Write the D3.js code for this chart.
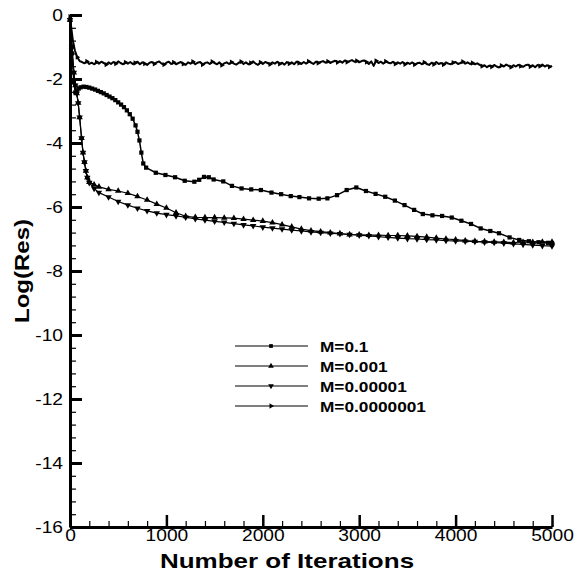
<!DOCTYPE html>
<html lang="en">
<head>
<meta charset="UTF-8" />
<title>Log(Res) vs Number of Iterations</title>
<script src="https://cdn.jsdelivr.net/npm/d3@7"></script>
<style>
  body { margin: 0; background: #fff; }
  text { font-family: "Liberation Sans", Arial, sans-serif; fill: #000; }
</style>
</head>
<body>
<div id="chart"></div>
<script>
// ---- values ----
var xTicks = [0, 1000, 2000, 3000, 4000, 5000];
var yTicks = [0, -2, -4, -6, -8, -10, -12, -14, -16];
var legendLabels = ["M=0.1", "M=0.001", "M=0.00001", "M=0.0000001"];

// M=0.1 (squares)
var m01 = [[0,-0.15],[20,-1.2],[40,-2.1],[55,-2.42],[70,-2.38],[90,-2.3],[110,-2.26],[140,-2.24],
  [170,-2.25],[200,-2.27],[230,-2.3],[260,-2.33],[290,-2.37],[320,-2.41],[350,-2.45],[380,-2.5],
  [410,-2.55],[440,-2.6],[470,-2.66],[500,-2.73],[530,-2.8],[560,-2.88],[590,-2.98],[620,-3.1],
  [650,-3.24],[680,-3.45],[700,-3.65],[720,-3.92],[740,-4.3],[760,-4.64],[790,-4.77],[890,-4.93],
  [990,-5.0],[1090,-5.07],[1190,-5.18],[1290,-5.21],[1340,-5.15],[1390,-5.06],[1440,-5.07],[1490,-5.14],
  [1590,-5.2],[1680,-5.34],[1780,-5.42],[1880,-5.45],[1980,-5.47],[2090,-5.55],[2190,-5.6],[2290,-5.66],
  [2380,-5.69],[2480,-5.73],[2580,-5.74],[2670,-5.73],[2770,-5.63],[2870,-5.47],[2970,-5.39],[3070,-5.5],
  [3170,-5.59],[3270,-5.68],[3370,-5.8],[3470,-5.94],[3570,-6.09],[3660,-6.22],[3760,-6.26],[3860,-6.28],
  [3960,-6.33],[4060,-6.43],[4160,-6.53],[4260,-6.67],[4360,-6.75],[4450,-6.82],[4560,-6.95],[4660,-7.03],
  [4760,-7.07],[4860,-7.1],[4960,-7.12],[5000,-7.13]];

// M=0.001 (up triangles)
var m0001 = [[0,-0.15],[20,-1.0],[40,-1.8],[55,-2.2],[70,-2.45],[85,-2.75],[100,-3.2],[120,-3.85],
  [135,-4.3],[150,-4.6],[165,-4.87],[180,-5.08],[200,-5.22],[250,-5.3],[300,-5.37],[400,-5.45],
  [500,-5.5],[600,-5.57],[700,-5.67],[800,-5.78],[900,-5.91],[1000,-6.03],[1100,-6.18],[1200,-6.29],
  [1300,-6.32],[1400,-6.33],[1500,-6.33],[1600,-6.34],[1700,-6.35],[1800,-6.38],[1900,-6.41],[2000,-6.44],
  [2100,-6.49],[2200,-6.55],[2300,-6.62],[2400,-6.69],[2500,-6.74],[2600,-6.77],[2700,-6.8],[2800,-6.83],
  [2900,-6.86],[3000,-6.87],[3100,-6.88],[3200,-6.88],[3300,-6.89],[3400,-6.89],[3500,-6.9],[3600,-6.92],
  [3700,-6.94],[3800,-6.97],[3900,-7.0],[4000,-7.02],[4100,-7.05],[4200,-7.07],[4300,-7.08],[4400,-7.09],
  [4500,-7.1],[4600,-7.11],[4700,-7.1],[4800,-7.1],[4900,-7.09],[5000,-7.09]];

// M=0.00001 (down triangles)
var m00001 = [[0,-0.15],[20,-1.0],[40,-1.8],[55,-2.2],[70,-2.45],[85,-2.75],[100,-3.2],[120,-3.85],
  [135,-4.3],[150,-4.6],[165,-4.87],[180,-5.08],[200,-5.24],[250,-5.42],[300,-5.55],[400,-5.69],
  [500,-5.83],[600,-5.94],[700,-6.04],[800,-6.12],[900,-6.19],[1000,-6.24],[1100,-6.28],[1200,-6.32],
  [1300,-6.37],[1400,-6.41],[1500,-6.45],[1600,-6.48],[1700,-6.52],[1800,-6.56],[1900,-6.59],[2000,-6.63],
  [2100,-6.66],[2200,-6.69],[2300,-6.72],[2400,-6.75],[2500,-6.78],[2600,-6.8],[2700,-6.82],[2800,-6.84],
  [2900,-6.86],[3000,-6.88],[3100,-6.9],[3200,-6.93],[3300,-6.95],[3400,-6.97],[3500,-6.99],[3600,-7.0],
  [3700,-7.02],[3800,-7.03],[3900,-7.05],[4000,-7.06],[4100,-7.07],[4200,-7.08],[4300,-7.1],[4400,-7.11],
  [4500,-7.13],[4600,-7.15],[4700,-7.17],[4800,-7.19],[4900,-7.21],[5000,-7.22]];

// M=0.0000001 (right triangles): fast drop, then a noisy plateau sampled every 25 iterations
var m7Head = [[0,-0.05],[15,-0.45],[30,-0.8],[50,-1.1],[75,-1.32],[100,-1.44]];
var m7Start = 125, m7Step = 25;
var m7Noise = [
  -1.47,-1.51,-1.45,-1.53,-1.49,-1.54,-1.47,-1.52,-1.46,-1.50,-1.55,-1.48,-1.53,-1.47,-1.52,-1.45,-1.50,-1.54,-1.48,-1.52,
  -1.47,-1.53,-1.50,-1.46,-1.54,-1.48,-1.52,-1.56,-1.49,-1.47,-1.53,-1.48,-1.45,-1.52,-1.55,-1.49,-1.46,-1.53,-1.48,-1.54,
  -1.50,-1.47,-1.53,-1.56,-1.48,-1.52,-1.46,-1.54,-1.49,-1.47,-1.55,-1.50,-1.48,-1.53,-1.46,-1.50,-1.54,-1.48,-1.57,-1.51,
  -1.48,-1.53,-1.47,-1.52,-1.55,-1.49,-1.46,-1.53,-1.48,-1.54,-1.50,-1.45,-1.52,-1.56,-1.48,-1.53,-1.47,-1.50,-1.54,-1.48,
  -1.52,-1.46,-1.53,-1.49,-1.55,-1.47,-1.52,-1.48,-1.54,-1.46,-1.50,-1.53,-1.47,-1.52,-1.45,-1.49,-1.53,-1.46,-1.50,-1.47,
  -1.44,-1.49,-1.45,-1.50,-1.46,-1.43,-1.48,-1.44,-1.49,-1.42,-1.47,-1.44,-1.41,-1.46,-1.43,-1.48,-1.44,-1.42,-1.47,-1.53,
  -1.45,-1.59,-1.43,-1.50,-1.46,-1.52,-1.45,-1.49,-1.51,-1.46,-1.53,-1.48,-1.52,-1.47,-1.54,-1.49,-1.53,-1.48,-1.55,-1.51,
  -1.49,-1.54,-1.48,-1.53,-1.56,-1.49,-1.54,-1.47,-1.53,-1.50,-1.55,-1.48,-1.52,-1.54,-1.49,-1.47,-1.53,-1.50,-1.46,-1.52,
  -1.48,-1.53,-1.50,-1.54,-1.51,-1.56,-1.60,-1.57,-1.63,-1.58,-1.62,-1.56,-1.61,-1.64,-1.58,-1.61,-1.55,-1.59,-1.63,-1.57,
  -1.61,-1.56,-1.60,-1.62,-1.57,-1.55,-1.61,-1.57,-1.63,-1.56,-1.60,-1.55,-1.61,-1.57,-1.62,-1.59];

var m7 = m7Head.concat(m7Noise.map(function(v, i) { return [m7Start + i * m7Step, v]; }));

// ---- drawing ----
var width = 587, height = 574;
var sx = 1.2; // the scanned glyphs are wider than Arial

var svg = d3.select("#chart").append("svg")
  .attr("width", width)
  .attr("height", height);

var x = d3.scaleLinear().domain([0, 5000]).range([70, 552]);
var y = d3.scaleLinear().domain([-16, 0]).range([527, 15]);

// plain labels with a hyphen for negatives, no thousands separator
var plain = function(d) { return String(d); };

// minor ticks (inward)
svg.append("g")
  .attr("transform", "translate(" + x(0) + ",0)")
  .call(d3.axisLeft(y).tickValues(d3.range(0, 41).map(function(i) { return -16 + i * 0.4; }))
    .tickSizeInner(-6).tickSizeOuter(0).tickFormat(""))
  .call(function(g) { g.select(".domain").remove(); })
  .selectAll("line").attr("stroke-width", 1.2);

svg.append("g")
  .attr("transform", "translate(0," + y(-16) + ")")
  .call(d3.axisBottom(x).tickValues(d3.range(0, 26).map(function(i) { return i * 200; }))
    .tickSizeInner(-6).tickSizeOuter(0).tickFormat(""))
  .call(function(g) { g.select(".domain").remove(); })
  .selectAll("line").attr("stroke-width", 1.2);

// major ticks + labels
var gY = svg.append("g")
  .attr("transform", "translate(" + x(0) + ",0)")
  .call(d3.axisLeft(y).tickValues(yTicks).tickFormat(plain)
    .tickSizeInner(-12).tickSizeOuter(0).tickPadding(7));
gY.select(".domain").attr("stroke-width", 3);
gY.selectAll(".tick line").attr("stroke-width", 3);
gY.selectAll(".tick text")
  .attr("font-size", 16)
  .attr("font-family", "Liberation Sans, Arial, sans-serif")
  .attr("x", -7 / sx)
  .attr("transform", "scale(" + sx + ",1)");

var gX = svg.append("g")
  .attr("transform", "translate(0," + y(-16) + ")")
  .call(d3.axisBottom(x).tickValues(xTicks).tickFormat(plain)
    .tickSizeInner(-12).tickSizeOuter(0).tickPadding(3));
gX.select(".domain").attr("stroke-width", 3);
gX.selectAll(".tick line").attr("stroke-width", 2.5);
gX.selectAll(".tick text")
  .attr("font-size", 16)
  .attr("font-family", "Liberation Sans, Arial, sans-serif")
  .attr("transform", "scale(" + sx + ",1)");

// axis titles
svg.append("text")
  .attr("transform", "translate(287,568) scale(1.3,1)")
  .attr("text-anchor", "middle")
  .attr("font-size", 20)
  .attr("font-weight", "bold")
  .text("Number of Iterations");

svg.append("text")
  .attr("transform", "translate(29,271) rotate(-90) scale(" + sx + ",1)")
  .attr("text-anchor", "middle")
  .attr("font-size", 20)
  .attr("font-weight", "bold")
  .text("Log(Res)");

// curves
var line = d3.line()
  .x(function(d) { return x(d[0]); })
  .y(function(d) { return y(d[1]); });

var series = [
  { data: m01, sym: d3.symbolSquare, rot: 0, size: 18, width: 1.5, every: 1 },
  { data: m0001, sym: d3.symbolTriangle, rot: 0, size: 18, width: 1.2, every: 1 },
  { data: m00001, sym: d3.symbolTriangle, rot: 180, size: 18, width: 1.2, every: 1 },
  { data: m7, sym: d3.symbolTriangle, rot: 90, size: 12, width: 2, every: 4 }
];

series.forEach(function(s) {
  svg.append("path")
    .attr("fill", "none")
    .attr("stroke", "#000")
    .attr("stroke-width", s.width)
    .attr("stroke-linejoin", "round")
    .attr("d", line(s.data));

  svg.append("g").selectAll("path")
    .data(s.data.filter(function(d, i) { return i % s.every === 0; }))
    .enter().append("path")
    .attr("d", d3.symbol().type(s.sym).size(s.size))
    .attr("fill", "#000")
    .attr("transform", function(d) {
      return "translate(" + x(d[0]) + "," + y(d[1]) + ") rotate(" + s.rot + ")";
    });
});

// legend
var legend = svg.append("g").attr("transform", "translate(235,346)");
legendLabels.forEach(function(label, i) {
  var s = series[i];
  var row = legend.append("g").attr("transform", "translate(0," + i * 20 + ")");
  row.append("line")
    .attr("x1", 0).attr("x2", 73)
    .attr("y1", 0).attr("y2", 0)
    .attr("stroke", "#000")
    .attr("stroke-width", 1.2);
  row.append("path")
    .attr("d", d3.symbol().type(s.sym).size(Math.min(s.size, 14)))
    .attr("fill", "#000")
    .attr("transform", "translate(36,0) rotate(" + s.rot + ")");
  row.append("text")
    .attr("transform", "translate(85,5.5) scale(1.15,1)")
    .attr("font-size", 15)
    .attr("font-weight", "bold")
    .text(label);
});
</script>
</body>
</html>
